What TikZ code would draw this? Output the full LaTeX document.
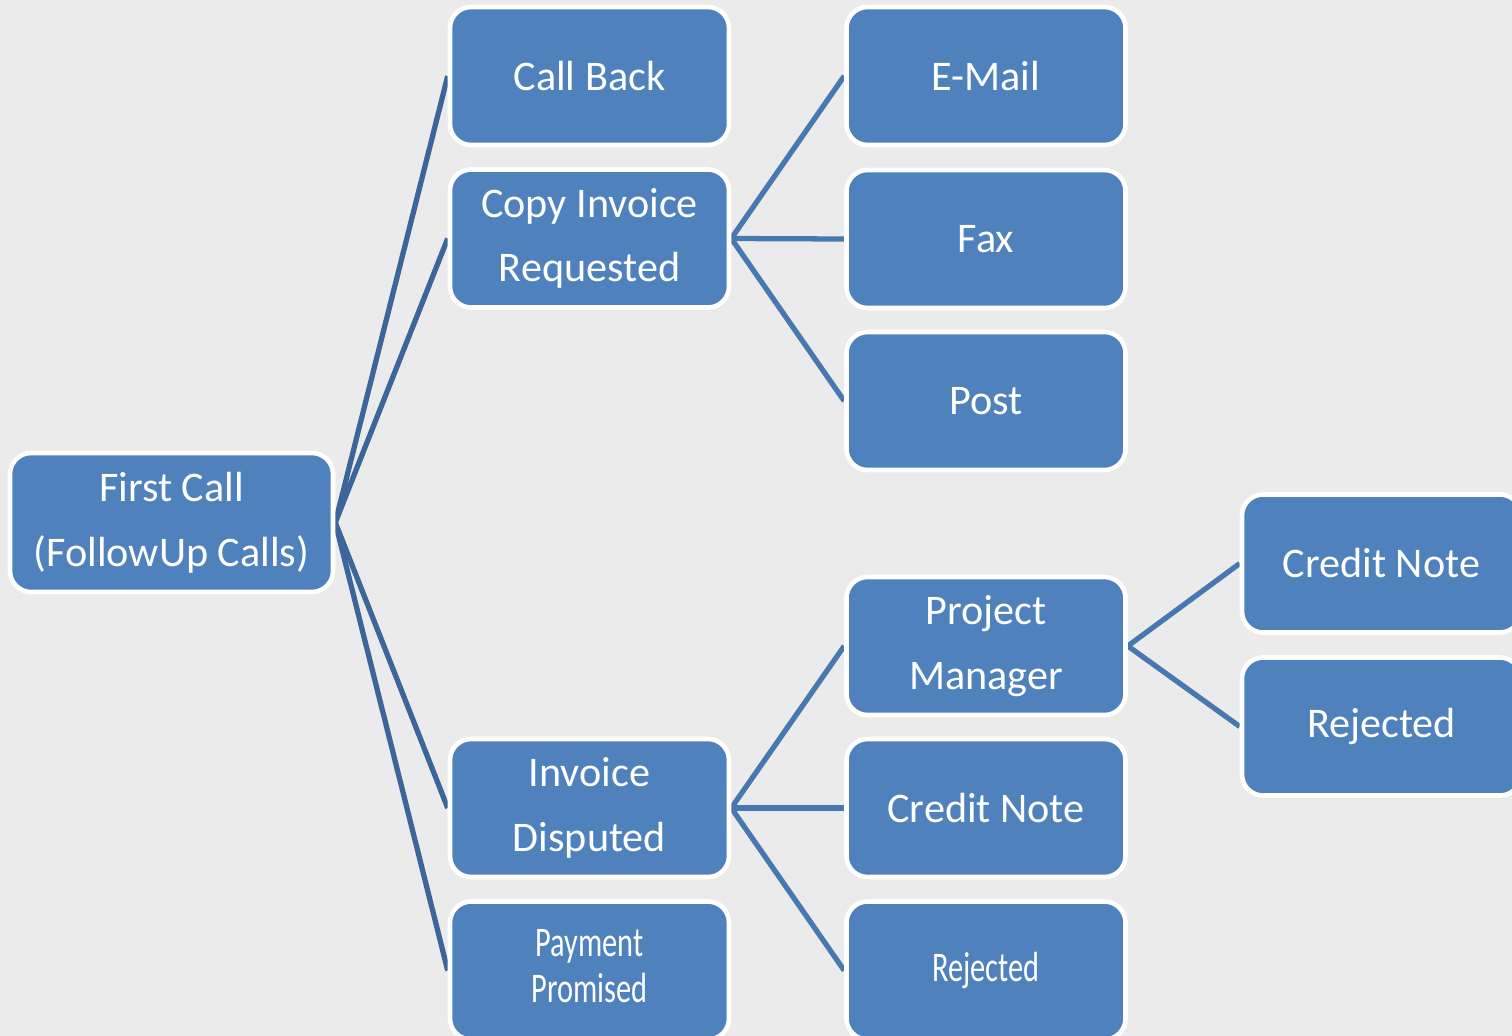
\documentclass[tikz,border=0pt]{standalone}
\usepackage{fontspec}
\setmainfont{Carlito}
\usepackage{graphicx}
\usetikzlibrary{backgrounds}
\definecolor{boxblue}{RGB}{79,129,189}
\definecolor{linkdark}{RGB}{60,102,154}
\definecolor{linkblue}{RGB}{72,120,178}
\definecolor{paper}{RGB}{235,235,235}
\newcommand{\squeeze}[1]{\scalebox{0.72}[1]{#1}}
\newcommand{\tightlines}[1]{{\fontsize{12}{13}\selectfont\begin{tabular}{@{}c@{}}#1\end{tabular}}}

\begin{document}
\begin{tikzpicture}[
 box/.style={draw=white,line width=1.3pt,rounded corners=6pt,fill=boxblue,text=white,
   align=center,minimum width=2.79cm,minimum height=1.38cm,inner sep=0pt,
   font=\fontsize{12}{18.4}\selectfont},
 link/.style={draw=linkblue,line width=1.5pt}]
\clip (0,0) rectangle (15.12,-10.36);
\useasboundingbox (0,0) rectangle (15.12,-10.36);

\node[box,minimum width=3.23cm,minimum height=1.39cm] (first) at (1.715,-5.225) {First Call\\(FollowUp Calls)};

\node[box] (callback) at (5.895,-0.76) {Call Back};
\node[box] (copyinv) at (5.895,-2.385) {Copy Invoice\\Requested};
\node[box] (disputed) at (5.895,-8.08) {Invoice\\Disputed};
\node[box] (promised) at (5.895,-9.705) {\squeeze{\tightlines{Payment\\Promised}}};

\node[box] (email) at (9.86,-0.76) {E-Mail};
\node[box] (fax) at (9.86,-2.39) {Fax};
\node[box] (post) at (9.86,-4.01) {Post};
\node[box] (pm) at (9.86,-6.46) {Project\\Manager};
\node[box] (credit) at (9.86,-8.08) {Credit Note};
\node[box] (reject) at (9.86,-9.705) {\squeeze{Rejected}};

\node[box] (pmcredit) at (13.815,-5.635) {Credit Note};
\node[box] (pmreject) at (13.815,-7.265) {Rejected};

\begin{pgfonlayer}{background}
\fill[paper] (0,0) rectangle (15.12,-10.36);
\foreach \c in {callback,copyinv,disputed,promised}
  \draw[link,draw=linkdark] (first.east) -- (\c.west);
\foreach \c in {email,fax,post}
  \draw[link] (copyinv.east) -- (\c.west);
\foreach \c in {pm,credit,reject}
  \draw[link] (disputed.east) -- (\c.west);
\foreach \c in {pmcredit,pmreject}
  \draw[link] (pm.east) -- (\c.west);
\end{pgfonlayer}
\end{tikzpicture}
\end{document}
